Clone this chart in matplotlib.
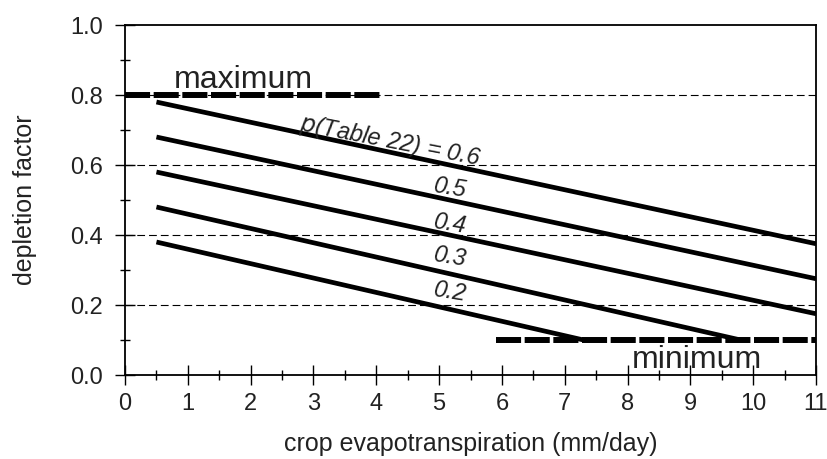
import matplotlib
matplotlib.use("Agg")
import matplotlib.pyplot as plt
from matplotlib.ticker import MultipleLocator, FormatStrFormatter

# data
p_table = ["0.6", "0.5", "0.4", "0.3", "0.2"]
line_x_start = [0.5, 0.5, 0.5, 0.5, 0.5]
line_y_start = [0.78, 0.68, 0.58, 0.48, 0.38]
line_x_end = [11.0, 11.0, 11.0, 9.8, 7.3]
line_y_end = [0.375, 0.275, 0.175, 0.10, 0.10]
max_x = [0.0, 4.1]
max_y = [0.8, 0.8]
min_x = [5.9, 11.0]
min_y = [0.1, 0.1]
grid_y = [0.2, 0.4, 0.6, 0.8]

FONT = ['Liberation Sans', 'DejaVu Sans']
plt.rcParams['font.family'] = FONT
TXT = '#222222'

fig = plt.figure(figsize=(8.28, 4.59), dpi=100)
ax = fig.add_axes([0.151, 0.183, 0.8345, 0.7625])

for gy in grid_y:
    ax.axhline(gy, color='black', lw=0.8, ls=(0, (7, 3.6)), zorder=1)

for xs, ys, xe, ye in zip(line_x_start, line_y_start, line_x_end, line_y_end):
    ax.plot([xs, xe], [ys, ye], color='black', lw=3.4, solid_capstyle='butt', zorder=3)

ax.plot(max_x, max_y, color='black', lw=4.3, ls=(0, (4.2, 0.6)), zorder=4)
ax.plot(min_x, min_y, color='black', lw=4.3, ls=(0, (4.2, 0.6)), zorder=4)

ax.text(1.88, 0.819, "maximum", fontsize=23, ha='center', va='baseline', color=TXT)
ax.text(9.1, 0.02, "minimum", fontsize=23, ha='center', va='baseline', color=TXT)

ax.text(4.22, 0.668, "$p$(Table 22) = " + p_table[0], fontsize=17, ha='center', va='center',
        rotation=-11, style='italic', color=TXT)
lab_y = [None, 0.535, 0.432, 0.337, 0.237]
for lbl, ly in zip(p_table[1:], lab_y[1:]):
    ax.text(5.17, ly, lbl, fontsize=17, ha='center', va='center', rotation=-9,
            style='italic', color=TXT)

ax.set_xlim(0, 11)
ax.set_ylim(0, 1.0)
ax.xaxis.set_major_locator(MultipleLocator(1))
ax.xaxis.set_minor_locator(MultipleLocator(0.5))
ax.yaxis.set_major_locator(MultipleLocator(0.2))
ax.yaxis.set_minor_locator(MultipleLocator(0.1))
ax.yaxis.set_major_formatter(FormatStrFormatter('%.1f'))
ax.tick_params(which='major', direction='inout', length=14, width=1, labelsize=17,
               colors='black', labelcolor=TXT)
ax.tick_params(which='minor', direction='inout', length=7, width=1)
ax.tick_params(axis='x', which='major', pad=6)
ax.tick_params(axis='y', which='major', pad=9)
for s in ax.spines.values():
    s.set_linewidth(1.3)

ax.set_xlabel("crop evapotranspiration (mm/day)", fontsize=18, labelpad=12, color=TXT)
ax.set_ylabel("depletion factor", fontsize=18, labelpad=24, color=TXT)

fig.savefig("out.png", dpi=100)
